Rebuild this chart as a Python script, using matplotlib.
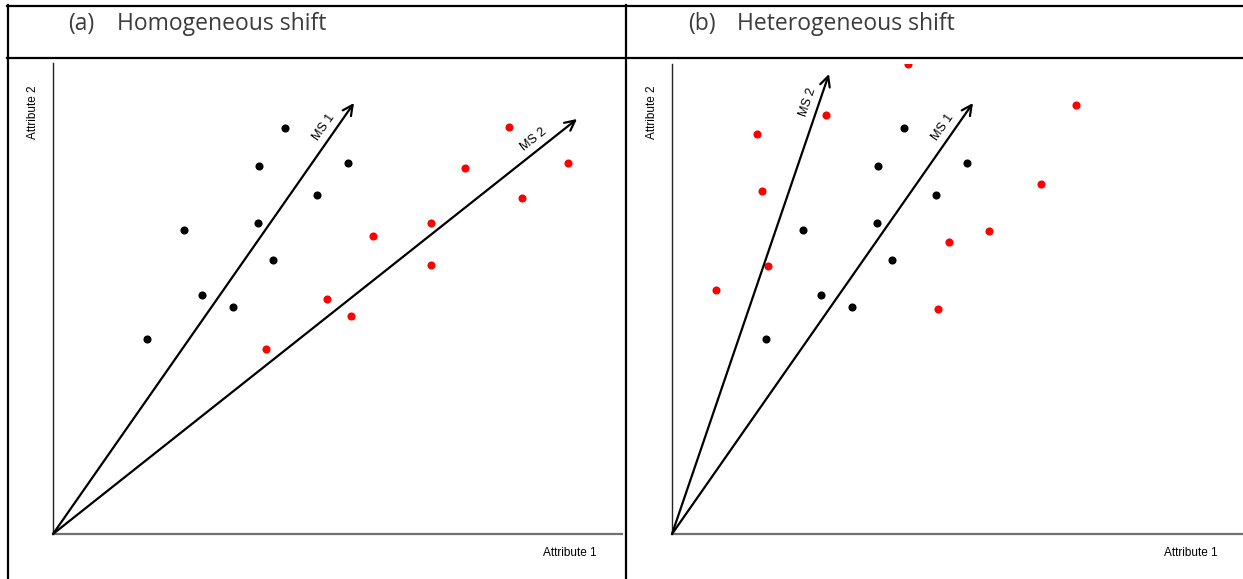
import numpy as np
import matplotlib
matplotlib.use("Agg")
import matplotlib.pyplot as plt
from matplotlib.lines import Line2D

# ---------------- data (units: distance from origin) ----------------
titles = ["(a)", "(b)"]
subtitles = ["Homogeneous shift", "Heterogeneous shift"]

black_x = [94, 131, 149, 180, 206, 205, 220, 232, 264, 295]
black_y = [195, 304, 239, 227, 368, 311, 274, 406, 339, 371]

red_a_x = [213, 274, 298, 320, 378, 378, 412, 456, 469, 515]
red_a_y = [185, 235, 218, 298, 311, 269, 366, 407, 336, 371]

red_b_x = [44, 85, 90, 96, 154, 236, 266, 277, 317, 369, 404]
red_b_y = [244, 400, 343, 268, 419, 470, 225, 292, 303, 350, 429]

arrow_labels_a = ["MS 1", "MS 2"]
arrow_end_a_x = [301, 524]
arrow_end_a_y = [431, 415]

arrow_labels_b = ["MS 2", "MS 1"]
arrow_end_b_x = [157, 301]
arrow_end_b_y = [460, 431]

xlabel = "Attribute 1"
ylabel = "Attribute 2"

# ---------------- figure ----------------
W, H = 1243, 579
DPI = 100
fig = plt.figure(figsize=(W / DPI, H / DPI), dpi=DPI)
fig.patch.set_facecolor("white")

def fx(px):
    return px / W

def fy(py):
    return 1 - py / H

frame_lines = [
    ((7, 1243), (5.5, 5.5)),
    ((7, 1243), (58, 58)),
    ((7.5, 7.5), (5, 579)),
    ((626, 626), (5, 579)),
]
for xs, ys in frame_lines:
    fig.add_artist(Line2D([fx(x) for x in xs], [fy(y) for y in ys],
                          color="black", lw=1.6, transform=fig.transFigure))

title_font = ["Open Sans", "DejaVu Sans"]
for i, (t, s) in enumerate(zip(titles, subtitles)):
    x0 = 68 + i * 620
    fig.text(fx(x0), fy(24.5), t, fontsize=16.5, color="#3c3c3c",
             family=title_font, va="center", ha="left")
    fig.text(fx(x0 + 49), fy(24.5), s, fontsize=16.5, color="#3c3c3c",
             family=title_font, va="center", ha="left")

panels = [
    dict(l=53, r=622, t=63, b=534,
         rx=red_a_x, ry=red_a_y,
         ax_=arrow_end_a_x, ay_=arrow_end_a_y, labs=arrow_labels_a),
    dict(l=672, r=1243, t=64, b=534,
         rx=red_b_x, ry=red_b_y,
         ax_=arrow_end_b_x, ay_=arrow_end_b_y, labs=arrow_labels_b),
]

lab_font = ["Liberation Sans", "DejaVu Sans"]

for p in panels:
    w = p["r"] - p["l"]
    h = p["b"] - p["t"]
    ax = fig.add_axes([fx(p["l"]), fy(p["b"]), w / W, h / H])
    ax.set_xlim(0, w)
    ax.set_ylim(0, h)
    ax.patch.set_alpha(0)
    for side in ["top", "right"]:
        ax.spines[side].set_visible(False)
    ax.spines["left"].set_color("#222222")
    ax.spines["left"].set_linewidth(1.0)
    ax.spines["bottom"].set_color("#707070")
    ax.spines["bottom"].set_linewidth(1.6)
    ax.set_xticks([])
    ax.set_yticks([])

    ax.scatter(black_x, black_y, s=34, color="black", zorder=3, linewidths=0)
    ax.scatter(p["rx"], p["ry"], s=34, color="#ff0000", zorder=3, linewidths=0)

    for ex, ey, lab in zip(p["ax_"], p["ay_"], p["labs"]):
        ax.annotate("", xy=(ex, ey), xytext=(0, 0),
                    arrowprops=dict(arrowstyle="->", color="black", lw=1.6,
                                    mutation_scale=18, shrinkA=0, shrinkB=0),
                    zorder=4)
        L = np.hypot(ex, ey)
        ux, uy = ex / L, ey / L
        nx, ny = -uy, ux
        cx = 0.93 * ex + 11 * nx
        cy = 0.93 * ey + 11 * ny
        ang = np.degrees(np.arctan2(ey, ex))
        ax.text(cx, cy, lab, rotation=ang, rotation_mode="anchor",
                ha="center", va="center", fontsize=9, family=lab_font)

    fig.text(fx(p["r"] - 25), fy(553), xlabel, fontsize=8.5, family=lab_font,
             ha="right", va="center")
    fig.text(fx(p["l"] - 20), fy(112), ylabel, fontsize=8.5, family=lab_font,
             ha="center", va="center", rotation=90)

fig.savefig("out.png", dpi=DPI)
